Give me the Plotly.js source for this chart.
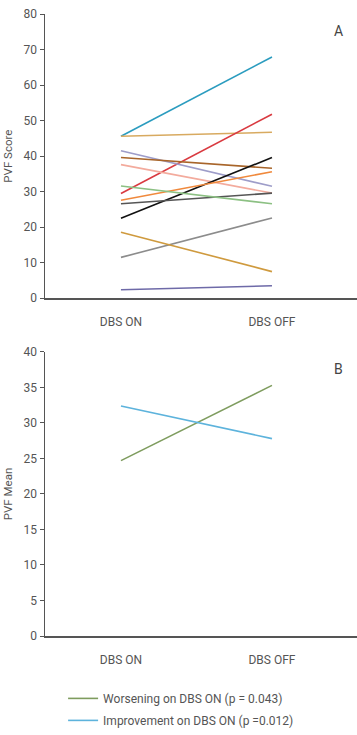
<!DOCTYPE html>
<html>
<head>
<meta charset="utf-8">
<script src="https://cdn.plot.ly/plotly-3.0.1.min.js"></script>
<style>html,body{margin:0;padding:0;background:#fff;}#chart{width:357px;height:735px;}</style>
</head>
<body>
<div id="chart"></div>
<script>
const categories = ["DBS ON", "DBS OFF"];

// Panel A: individual PVF scores (DBS ON, DBS OFF)
const patientOn  = [45.6, 45.6, 29.5, 41.5, 39.6, 37.6, 22.5, 27.6, 26.6, 31.6, 11.5, 18.6, 2.4];
const patientOff = [67.9, 46.7, 51.8, 31.5, 36.6, 29.6, 39.6, 35.6, 29.6, 26.6, 22.6, 7.5, 3.5];
const patientColors = ["#2b9cbf", "#d8aa60", "#d93a40", "#9e9dc9", "#a8652a", "#f3ab9d",
                       "#111111", "#f0893c", "#555555", "#8cc083", "#8c8c8c", "#cf9a3e", "#6e6aa8"];

// Panel B: group means
const groupNames = ["Worsening on DBS ON (p = 0.043)", "Improvement on DBS ON (p =0.012)"];
const groupOn  = [24.7, 32.4];
const groupOff = [35.3, 27.8];
const groupColors = ["#7e9c5e", "#5db3dc"];

const yTicksA = [0, 10, 20, 30, 40, 50, 60, 70, 80];
const yTicksB = [0, 5, 10, 15, 20, 25, 30, 35, 40];

const traces = [];
patientOn.forEach((v, i) => {
  traces.push({
    x: categories, y: [v, patientOff[i]], type: "scatter", mode: "lines",
    line: {color: patientColors[i], width: 1.6},
    xaxis: "x", yaxis: "y", showlegend: false, hoverinfo: "skip"
  });
});
groupOn.forEach((v, i) => {
  traces.push({
    x: categories, y: [v, groupOff[i]], type: "scatter", mode: "lines",
    name: groupNames[i], legendgroup: "g" + i,
    line: {color: groupColors[i], width: 1.6},
    xaxis: "x2", yaxis: "y2", showlegend: true
  });
});

const fontFam = "Roboto, 'Open Sans', sans-serif";
const grey = "#555555";
const axisCommonX = {
  type: "category", range: [-0.503, 1.563], showgrid: false, zeroline: false,
  showline: true, linecolor: grey, linewidth: 1.5, ticks: "", ticklen: 0,
  ticklabelstandoff: 12,
  tickfont: {size: 12, color: grey, family: fontFam}, fixedrange: true
};
const axisCommonY = {
  showgrid: false, zeroline: false, showline: true, linecolor: grey, linewidth: 1.5,
  ticks: "outside", ticklen: 4, tickcolor: grey, tickwidth: 1,
  tickfont: {size: 12, color: grey, family: fontFam}, tickmode: "array", fixedrange: true
};

const layout = {
  width: 357, height: 735,
  margin: {l: 45, r: 0, t: 14, b: 99},
  paper_bgcolor: "#ffffff", plot_bgcolor: "#ffffff",
  font: {family: fontFam, color: grey, size: 12},
  xaxis: Object.assign({}, axisCommonX, {anchor: "y", domain: [0, 1]}),
  yaxis: Object.assign({}, axisCommonY, {
    anchor: "x", domain: [0.543, 1], range: [0, 80], tickvals: yTicksA,
    title: {text: "PVF Score", font: {size: 11.5, color: grey, family: fontFam}, standoff: 8}
  }),
  xaxis2: Object.assign({}, axisCommonX, {anchor: "y2", domain: [0, 1]}),
  yaxis2: Object.assign({}, axisCommonY, {
    anchor: "x2", domain: [0, 0.4566], range: [0, 40], tickvals: yTicksB,
    title: {text: "PVF Mean", font: {size: 11.5, color: grey, family: fontFam}, standoff: 8}
  }),
  showlegend: true,
  legend: {
    x: 0.058, xanchor: "left", y: -0.077, yanchor: "top", orientation: "v",
    font: {size: 12, color: grey, family: fontFam}, bgcolor: "rgba(0,0,0,0)",
    tracegroupgap: 3, itemwidth: 30
  },
  annotations: [
    {text: "A", xref: "paper", yref: "paper", x: 0.94, y: 0.972, xanchor: "center", yanchor: "middle",
     showarrow: false, font: {size: 14, color: "#444", family: fontFam}},
    {text: "B", xref: "paper", yref: "paper", x: 0.94, y: 0.4286, xanchor: "center", yanchor: "middle",
     showarrow: false, font: {size: 14, color: "#444", family: fontFam}}
  ]
};

Plotly.newPlot("chart", traces, layout, {displayModeBar: false, staticPlot: true});
</script>
</body>
</html>
